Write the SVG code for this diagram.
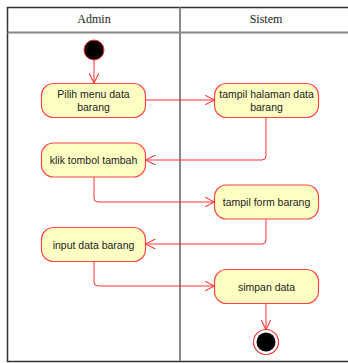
<svg xmlns="http://www.w3.org/2000/svg" width="348" height="363" viewBox="0 0 348 363">
<style>
.lane{fill:none;stroke:#333;stroke-width:1.5}
.div{stroke:#888;stroke-width:2}
.hdr{font-family:"Liberation Serif",serif;font-size:12px;fill:#222;text-anchor:middle}
.act rect{fill:#FFFFC3;stroke:#F44;stroke-width:1.2}
.act text{font-family:"Liberation Sans",Arial,sans-serif;font-size:10.5px;fill:#222;text-anchor:middle}
.con path{fill:none;stroke:#F33;stroke-width:1}
</style>
<defs>
<marker id="ah" viewBox="0 0 10 10" refX="10" refY="5" markerWidth="10" markerHeight="10" markerUnits="userSpaceOnUse" orient="auto">
<path d="M0,0 L10,5 L0,10" fill="none" stroke="#F33" stroke-width="1.1"/>
</marker>
</defs>
<rect width="348" height="363" fill="#fff"/>
<g id="swimlanes">
<path class="lane" d="M349,7.5 H7.5 V361.5 H349"/>
<line class="div" x1="7.5" y1="32.5" x2="349" y2="32.5"/>
<line class="div" x1="180" y1="7.5" x2="180" y2="361"/>
<text class="hdr" x="94" y="23">Admin</text>
<text class="hdr" x="266" y="23">Sistem</text>
</g>
<g id="start"><circle cx="94" cy="50" r="10" fill="#000" stroke="#F33" stroke-width="1"/></g>
<g id="n1" class="act"><rect x="41.5" y="83.5" width="104" height="34" rx="12"/><text x="93.5" y="97.5">Pilih menu data</text><text x="93.5" y="110.5">barang</text></g>
<g id="n2" class="act"><rect x="214.5" y="83.5" width="104" height="34" rx="12"/><text x="266.5" y="97.5">tampil halaman data</text><text x="266.5" y="110.5">barang</text></g>
<g id="n3" class="act"><rect x="41.5" y="143" width="104" height="34" rx="12"/><text x="93.5" y="164">klik tombol tambah</text></g>
<g id="n4" class="act"><rect x="214.5" y="185" width="104" height="34" rx="12"/><text x="266.5" y="206">tampil form barang</text></g>
<g id="n5" class="act"><rect x="41.5" y="227.5" width="104" height="34" rx="12"/><text x="93.5" y="248.5">input data barang</text></g>
<g id="n6" class="act"><rect x="214.5" y="269.5" width="104" height="34" rx="12"/><text x="266.5" y="290.5">simpan data</text></g>
<g id="end"><circle cx="266" cy="342" r="12.5" fill="#fff" stroke="#F33" stroke-width="1.2"/><circle cx="266" cy="342" r="9.5" fill="#000"/></g>
<g id="connectors" class="con">
<path d="M94,60 V83" marker-end="url(#ah)"/>
<path d="M145.5,100 H214.5" marker-end="url(#ah)"/>
<path d="M266,117.5 V156 Q266,160 262,160 H145.5" marker-end="url(#ah)"/>
<path d="M94,177 V198 Q94,202 98,202 H214.5" marker-end="url(#ah)"/>
<path d="M266,219 V240 Q266,244 262,244 H145.5" marker-end="url(#ah)"/>
<path d="M94,261.5 V282 Q94,286 98,286 H214.5" marker-end="url(#ah)"/>
<path d="M266,303.5 V329.5" marker-end="url(#ah)"/>
</g>
</svg>
